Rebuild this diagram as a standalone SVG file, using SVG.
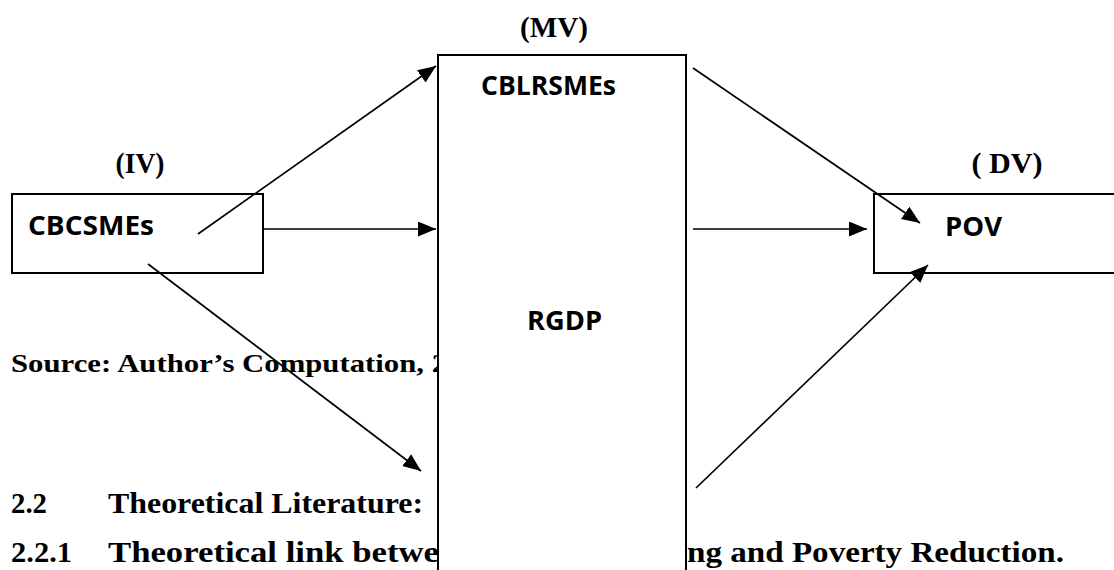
<svg xmlns="http://www.w3.org/2000/svg" width="1114" height="570" viewBox="0 0 1114 570">
<style>
.box{fill:#fff;stroke:#000;stroke-width:2}
.lbl{font-family:"Open Sans","Liberation Sans",sans-serif;font-weight:bold;font-size:27px;fill:#000}
.var{font-family:"Liberation Serif","Times New Roman",serif;font-weight:bold;font-size:29px;fill:#000}
.body{font-family:"Liberation Serif","Times New Roman",serif;font-weight:bold;fill:#000}
.conn{stroke:#000;stroke-width:1.7;fill:none}
</style>
<defs>
<marker id="ah" markerUnits="userSpaceOnUse" markerWidth="20" markerHeight="16" refX="18" refY="7.5" orient="auto">
<path d="M0,0 L18,7.5 L0,15 z" fill="#000"/>
</marker>
</defs>
<rect width="1114" height="570" fill="#fff"/>
<g id="page-text">
<text class="body" x="11" y="372" font-size="25" textLength="436" lengthAdjust="spacingAndGlyphs">Source: Author’s Computation, 2</text>
<text class="body" x="11" y="513" font-size="30" textLength="36" lengthAdjust="spacingAndGlyphs">2.2</text>
<text class="body" x="108" y="513" font-size="30" textLength="315" lengthAdjust="spacingAndGlyphs">Theoretical Literature:</text>
<text class="body" x="11" y="562" font-size="30" textLength="61" lengthAdjust="spacingAndGlyphs">2.2.1</text>
<text class="body" x="108" y="562" font-size="30" textLength="331" lengthAdjust="spacingAndGlyphs">Theoretical link betwe</text>
<text class="body" x="687" y="562" font-size="30" textLength="377" lengthAdjust="spacingAndGlyphs">ng and Poverty Reduction.</text>
</g>
<g id="node-iv">
<text class="var" x="140" y="173" text-anchor="middle" textLength="49" lengthAdjust="spacingAndGlyphs">(IV)</text>
<rect class="box" x="12" y="194" width="251" height="79"/>
<text class="lbl" x="28" y="235" textLength="126" lengthAdjust="spacingAndGlyphs">CBCSMEs</text>
</g>
<g id="node-mv">
<text class="var" x="554" y="37" text-anchor="middle" textLength="68" lengthAdjust="spacingAndGlyphs">(MV)</text>
<rect class="box" x="438" y="55" width="248" height="530"/>
<text class="lbl" x="481" y="95" textLength="135" lengthAdjust="spacingAndGlyphs">CBLRSMEs</text>
<text class="lbl" x="527" y="330" textLength="75" lengthAdjust="spacingAndGlyphs">RGDP</text>
</g>
<g id="node-dv">
<text class="var" x="1007" y="173" text-anchor="middle" textLength="71" lengthAdjust="spacingAndGlyphs">( DV)</text>
<rect class="box" x="874" y="194" width="260" height="79"/>
<text class="lbl" x="945" y="236" textLength="57" lengthAdjust="spacingAndGlyphs">POV</text>
</g>
<g id="connectors">
<line class="conn" x1="198" y1="234" x2="436" y2="66" marker-end="url(#ah)"/>
<line class="conn" x1="263" y1="229" x2="436" y2="229" marker-end="url(#ah)"/>
<line class="conn" x1="148" y1="264" x2="421" y2="471" marker-end="url(#ah)"/>
<line class="conn" x1="693" y1="68" x2="920" y2="223" marker-end="url(#ah)"/>
<line class="conn" x1="693" y1="229" x2="867" y2="229" marker-end="url(#ah)"/>
<line class="conn" x1="696" y1="488" x2="928" y2="265" marker-end="url(#ah)"/>
</g>
</svg>
